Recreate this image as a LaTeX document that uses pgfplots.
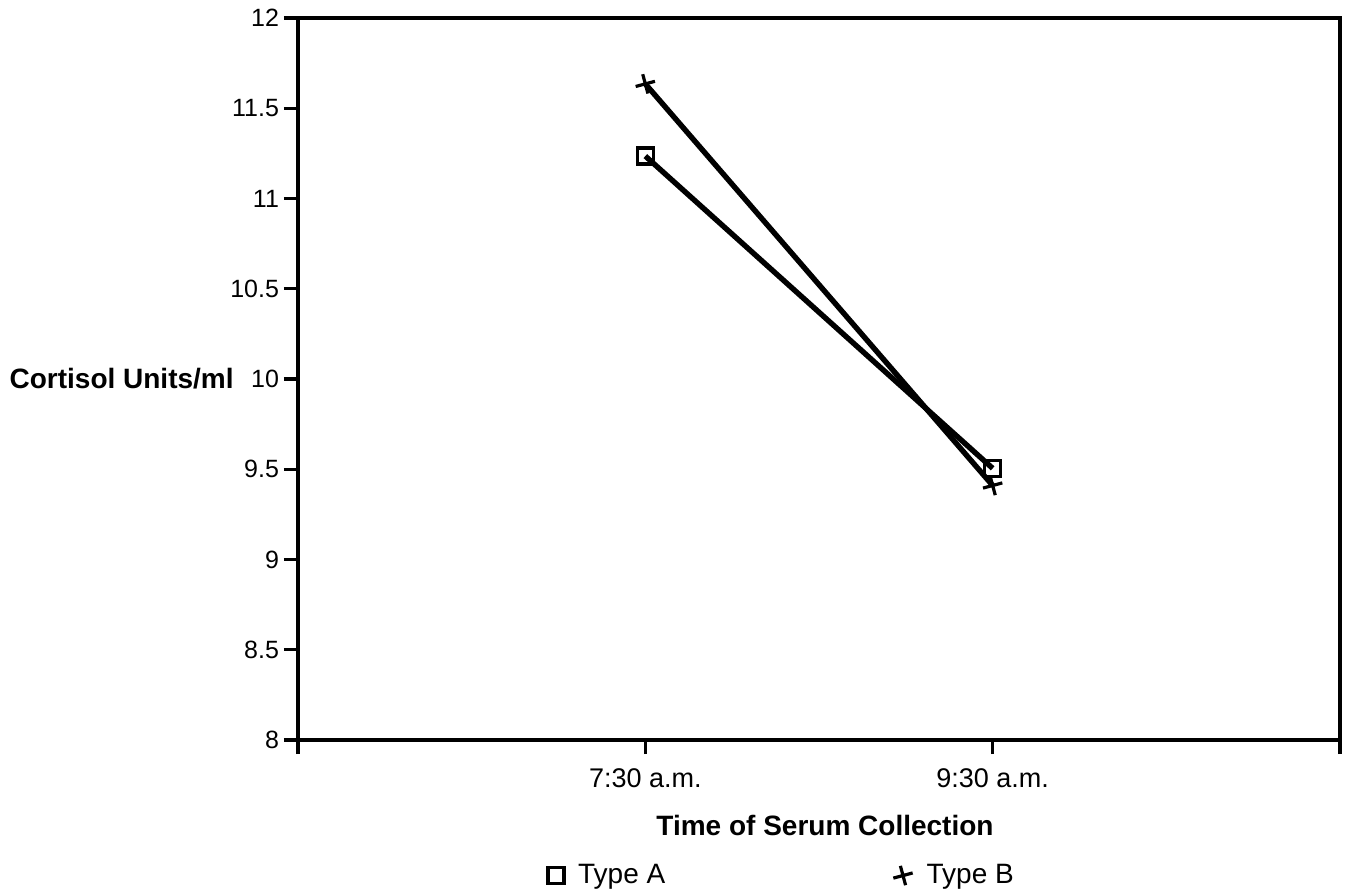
\documentclass[border=0pt]{standalone}
\usepackage{fontspec}
\setmainfont{Liberation Sans}
\usepackage{pgfplots}
\pgfplotsset{compat=1.18}
\begin{document}
\begin{tikzpicture}
\begin{axis}[
  scale only axis,
  width=521pt, height=361pt,
  xmin=0, xmax=3, ymin=8, ymax=12,
  xtick={0,1,2,3},
  xticklabels={,7:30 a.m.,9:30 a.m.,},
  ytick={8,8.5,...,12},
  yticklabels={8,8.5,9,9.5,10,10.5,11,11.5,12},
  tick align=outside,
  xtick pos=bottom, ytick pos=left,
  major tick length=7pt,
  tick style={line width=1.6pt, black},
  axis line style={line width=2pt},
  every axis plot/.append style={line width=2.7pt},
  /pgf/number format/assume math mode=true,
  yticklabel style={font=\fontsize{12.5}{14}\selectfont, xshift=1pt},
  xticklabel style={font=\fontsize{13.5}{15}\selectfont, yshift=-4pt},
  xlabel={\bfseries Time of Serum Collection},
  xlabel style={font=\fontsize{14}{16}\selectfont, at={(rel axis cs:0.5,0)}, anchor=north, yshift=-34pt, xshift=3pt},
  ylabel={\bfseries Cortisol Units/ml},
  ylabel style={font=\fontsize{14}{16}\selectfont, rotate=-90, at={(rel axis cs:-0.055,0.5)}, anchor=east},
  clip=false,
  legend columns=2,
  legend image code/.code={\draw[#1, line width=1.8pt] plot coordinates {(0.15cm,0cm)};},
  legend style={draw=none, at={(rel axis cs:0.5,0)}, anchor=north, yshift=-58pt, xshift=-18pt,
    font=\fontsize{14}{16}\selectfont,
    /tikz/every odd column/.append style={column sep=5pt},
    /tikz/every even column/.append style={column sep=112pt}},
  legend cell align=left,
]
\addplot[black, mark=square, mark size=4pt, mark options={line width=1.8pt}] coordinates {(1,11.235) (2,9.505)};
\addlegendentry{Type A}
\addplot[black, mark=+, mark size=5pt, mark options={line width=1.6pt, rotate=15}] coordinates {(1,11.635) (2,9.41)};
\addlegendentry{Type B}
\end{axis}
\pgfresetboundingbox
\path ([xshift=-149pt,yshift=-75pt]current axis.south west) rectangle ([xshift=528.5pt,yshift=370pt]current axis.south west);
\end{tikzpicture}
\end{document}
